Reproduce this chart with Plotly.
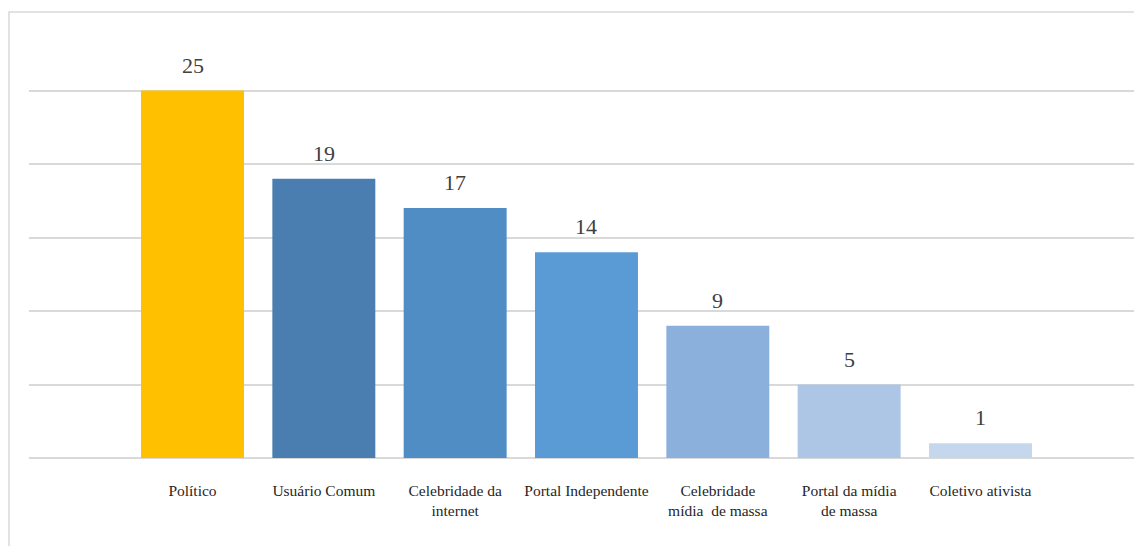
import plotly.graph_objects as go

categories = ["Político", "Usuário Comum", "Celebridade da<br>internet", "Portal Independente",
              "Celebridade<br>mídia  de massa", "Portal da mídia<br>de massa", "Coletivo ativista"]
values = [25, 19, 17, 14, 9, 5, 1]
colors = ["#FFC000", "#4A7EB0", "#508DC4", "#5B9BD5", "#8CB0DC", "#ADC6E6", "#C5D7ED"]
grid_ticks = [0, 5, 10, 15, 20, 25, 30]

SERIF = "Liberation Serif"

W, H = 1134, 546
ml, mr, mt, mb = 29, 0, 17, 88
pw, ph = W - ml - mr, H - mt - mb

x_idx = list(range(len(categories)))

fig = go.Figure()
fig.add_trace(go.Bar(
    x=x_idx, y=values, marker=dict(color=colors, line=dict(width=0)),
    hoverinfo="skip", showlegend=False,
))

for i, v in zip(x_idx, values):
    fig.add_annotation(x=i, y=v, text=str(v), showarrow=False, yanchor="bottom",
                       yshift=11, font=dict(family=SERIF, size=22, color="#404040"))

# outer frame
fig.add_shape(type="rect", xref="paper", yref="paper",
              x0=(9 - ml) / pw, x1=1.05, y0=-0.4, y1=(H - mb - 12) / ph,
              line=dict(color="#D9D9D9", width=1.5), fillcolor="rgba(0,0,0,0)", layer="below")

fig.update_layout(
    width=W, height=H,
    margin=dict(l=ml, r=mr, t=mt, b=mb),
    paper_bgcolor="white", plot_bgcolor="white",
    bargap=0.216,
    font=dict(family=SERIF, color="#262626"),
    xaxis=dict(
        range=[-1.245, 7.169], tickmode="array", tickvals=x_idx, ticktext=categories,
        showgrid=False, zeroline=False, showline=False,
        ticks="outside", ticklen=0, ticklabelstandoff=18, tickangle=0,
        tickfont=dict(family=SERIF, size=15.5, color="#262626"),
        fixedrange=True,
    ),
    yaxis=dict(
        range=[0, 30], tickmode="array", tickvals=grid_ticks, showticklabels=False,
        showgrid=True, gridcolor="#D9D9D9", gridwidth=1.5,
        zeroline=True, zerolinecolor="#D9D9D9", zerolinewidth=2, showline=False,
        fixedrange=True,
    ),
)

fig.write_html("out.html")
